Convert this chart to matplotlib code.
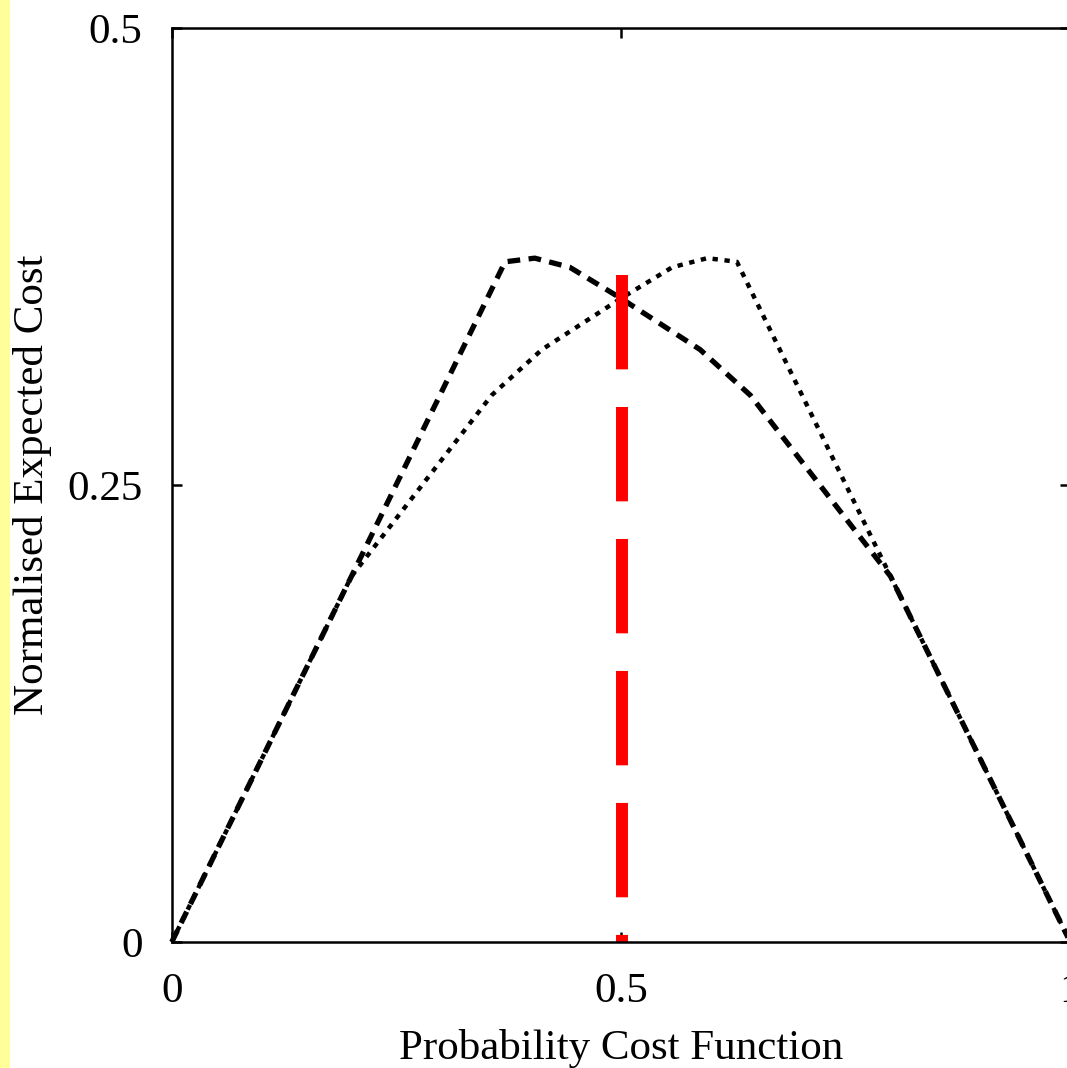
"""Normalised expected cost curves."""

import matplotlib
matplotlib.use("Agg")
import matplotlib.pyplot as plt
from matplotlib.patches import Rectangle

# dashed curve
dash_x = [0.0, 0.2, 0.371, 0.404, 0.443, 0.5, 0.588, 0.644, 0.8, 1.0]
dash_y = [0.0, 0.2, 0.372, 0.374, 0.369, 0.352, 0.324, 0.299, 0.2, 0.0]
# dotted curve
dot_x = [0.0, 0.2, 0.356, 0.412, 0.5, 0.557, 0.596, 0.629, 0.8, 1.0]
dot_y = [0.0, 0.2, 0.299, 0.324, 0.352, 0.369, 0.374, 0.372, 0.2, 0.0]
# red threshold line
thresh_x = 0.501
thresh_top = 0.365

x_ticks = [0, 0.5, 1]
x_tick_labels = ["0", "0.5", "1"]
y_ticks = [0, 0.25, 0.5]
y_tick_labels = ["0", "0.25", "0.5"]

plt.rcParams["font.family"] = ["Liberation Serif", "DejaVu Serif"]

fig = plt.figure(figsize=(10.67, 10.68), dpi=100)
fig.patches.append(Rectangle((0, 0), 10 / 1067, 1, transform=fig.transFigure,
                             facecolor="#ffff99", edgecolor="none", zorder=0))
ax = fig.add_axes([0.161, 0.118, 0.842, 0.856])

ax.plot(dash_x, dash_y, color="black", linewidth=3.8, linestyle=(0, (2.4, 1.6)),
        dash_capstyle="butt", clip_on=False)
ax.plot(dot_x, dot_y, color="black", linewidth=3.2, linestyle=(0, (1.2, 1.5)),
        dash_capstyle="butt", clip_on=False)
ax.plot([thresh_x, thresh_x], [thresh_top, 0], color="red", linewidth=8.6,
        linestyle=(0, (7.9, 3.15)), dash_capstyle="butt", clip_on=False)

ax.set_xlim(0, 1)
ax.set_ylim(0, 0.5)
ax.set_xticks(x_ticks)
ax.set_xticklabels(x_tick_labels)
ax.set_yticks(y_ticks)
ax.set_yticklabels(y_tick_labels)
ax.tick_params(direction="in", length=7, width=1.8, top=True, right=True,
               labelsize=31)
ax.tick_params(axis="x", pad=22)
ax.tick_params(axis="y", pad=21)
for spine in ax.spines.values():
    spine.set_linewidth(1.8)

ax.set_xlabel("Probability Cost Function", fontsize=31, labelpad=13)
ax.set_ylabel("Normalised Expected Cost", fontsize=31, labelpad=11)

fig.savefig("out.png", dpi=100)
